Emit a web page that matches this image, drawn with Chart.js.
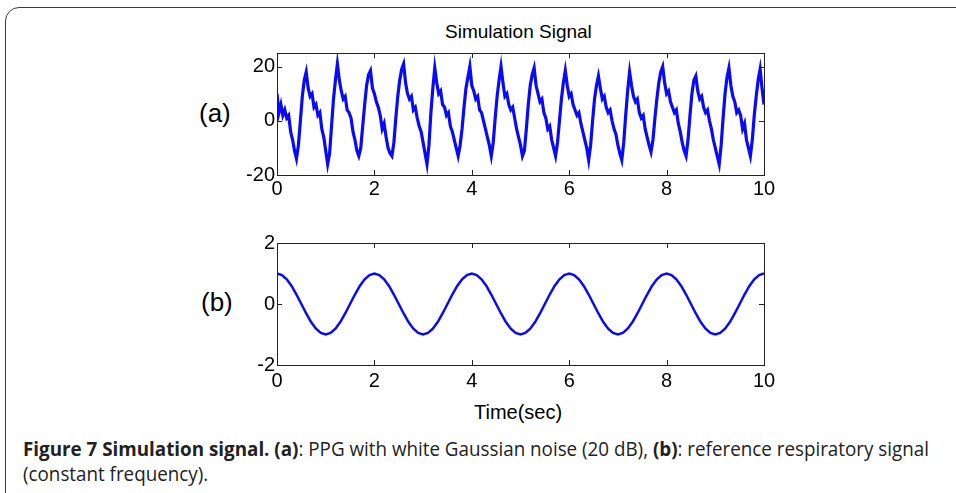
<!DOCTYPE html>
<html>
<head>
<meta charset="utf-8">
<script src="https://cdn.jsdelivr.net/npm/chart.js@4"></script>
<style>
  body { margin: 0; background: #fff; width: 956px; height: 493px; overflow: hidden; position: relative; font-family: 'Liberation Sans', Arial, sans-serif; }
  #frame { position: absolute; left: 5px; top: 7px; width: 1000px; height: 600px; border: 1.5px solid #3a3a3a; border-top-left-radius: 14px; }
  canvas { position: absolute; }
  .lbl { position: absolute; color: #000; white-space: nowrap; }
  #caption { position: absolute; left: 23px; top: 436px; font: 20px 'Open Sans', sans-serif; line-height: 25px; color: #222; white-space: nowrap; transform: scaleX(0.94); transform-origin: 0 0; }
  #caption b { font-weight: 700; }
</style>
</head>
<body>
<div id="frame"></div>
<div class="lbl" style="left:445px; top:21px; font-size:19px;">Simulation Signal</div>
<div class="lbl" style="left:199px; top:98px; font-size:26px;">(a)</div>
<div class="lbl" style="left:201px; top:287px; font-size:26px;">(b)</div>
<div class="lbl" style="left:474px; top:401px; font-size:20px;">Time(sec)</div>
<canvas id="chartA" width="600" height="185" style="left:200px; top:20px; width:600px; height:185px;"></canvas>
<canvas id="chartB" width="600" height="185" style="left:200px; top:215px; width:600px; height:185px;"></canvas>
<div id="caption"><b>Figure 7 Simulation signal. (a)</b>: PPG with white Gaussian noise (20 dB), <b>(b)</b>: reference respiratory signal<br>(constant frequency).</div>

<script>
// panel (a): noisy PPG, one sample every 0.04 s
const ppgStep = 0.04;
const ppgVals = [
    10, 3, 6, 2, 4, 1, 2, -4, -7, -11,
    -14, -9, 0, 9, 15, 18, 12, 9, 10, 5,
    6, 2, 3, -3, -6, -11, -16, -12, -2, 8,
    15, 21, 15, 11, 8, 9, 4, 3, 1, -4,
    -7, -11, -13, -10, -2, 6, 13, 17, 18.5, 12,
    10, 7, 5, 2, -3, -1, -6, -10, -12, -13,
    -8, 1, 9, 15, 19, 21, 14, 10, 8, 9,
    4, 5, 1, -2, -4, -8, -12, -16, -9, 3,
    12, 19.5, 14, 10, 11, 6, 5, 2, 3, -2,
    -4, -7, -10, -13, -9, -3, 5, 12, 16, 20,
    13, 11, 8, 9, 4, 3, 0, -3, -6, -9,
    -13, -8, 1, 9, 15, 20, 14, 9, 10, 6,
    4, 5, 1, -3, -6, -9, -13, -11, -3, 6,
    13, 17, 19.5, 13, 10, 7, 8, 3, 1, -3,
    -2, -7, -10, -13, -8, 0, 8, 14, 18.5, 13,
    9, 10, 6, 4, 2, 3, -1, -4, -7, -10,
    -14.5, -9, 0, 8, 13, 16.5, 12, 8, 9, 5,
    3, 4, 0, -3, -5, -9, -12, -14.5, -8, 2,
    11, 18, 13, 9, 7, 8, 3, 1, 2, -3,
    -6, -9, -11.5, -7, 1, 8, 14, 18, 20, 14,
    10, 11, 7, 5, 3, 4, -1, -4, -8, -11,
    -13, -7, 2, 10, 15, 16.5, 11, 8, 9, 5,
    3, 4, 0, -3, -7, -10, -13, -16, -9, 1,
    10, 16, 19.5, 13, 9, 7, 3, 4, 2, -3,
    -1, -7, -10, -13, -7, 2, 9, 15, 19, 12,
    6
];

// panel (b): reference respiratory signal, one sample every 0.1 s
const respStep = 0.1;
const respVals = [
    1, 0.95, 0.81, 0.59, 0.31, 0, -0.31, -0.59, -0.81, -0.95,
    -1, -0.95, -0.81, -0.59, -0.31, 0, 0.31, 0.59, 0.81, 0.95,
    1, 0.95, 0.81, 0.59, 0.31, 0, -0.31, -0.59, -0.81, -0.95,
    -1, -0.95, -0.81, -0.59, -0.31, 0, 0.31, 0.59, 0.81, 0.95,
    1, 0.95, 0.81, 0.59, 0.31, 0, -0.31, -0.59, -0.81, -0.95,
    -1, -0.95, -0.81, -0.59, -0.31, 0, 0.31, 0.59, 0.81, 0.95,
    1, 0.95, 0.81, 0.59, 0.31, 0, -0.31, -0.59, -0.81, -0.95,
    -1, -0.95, -0.81, -0.59, -0.31, 0, 0.31, 0.59, 0.81, 0.95,
    1, 0.95, 0.81, 0.59, 0.31, 0, -0.31, -0.59, -0.81, -0.95,
    -1, -0.95, -0.81, -0.59, -0.31, 0, 0.31, 0.59, 0.81, 0.95,
    1
];

const xTicks = [0, 2, 4, 6, 8, 10];
const yTicksA = [-20, 0, 20];
const yTicksB = [-2, 0, 2];

// matlab style box with inward ticks
const boxPlugin = {
    id: 'box',
    afterDatasetsDraw(chart) {
        const { ctx, chartArea: a, scales } = chart;
        ctx.save();
        ctx.strokeStyle = '#222';
        ctx.lineWidth = 1;
        ctx.beginPath();
        scales.x.ticks.forEach(t => {
            const px = Math.round(scales.x.getPixelForValue(t.value)) + 0.5;
            ctx.moveTo(px, a.bottom); ctx.lineTo(px, a.bottom - 5);
            ctx.moveTo(px, a.top); ctx.lineTo(px, a.top + 5);
        });
        scales.y.ticks.forEach(t => {
            const py = Math.round(scales.y.getPixelForValue(t.value)) + 0.5;
            ctx.moveTo(a.left, py); ctx.lineTo(a.left + 5, py);
            ctx.moveTo(a.right, py); ctx.lineTo(a.right - 5, py);
        });
        ctx.stroke();
        ctx.strokeRect(Math.round(a.left) + 0.5, Math.round(a.top) + 0.5, Math.round(a.width), Math.round(a.height));
        ctx.restore();
    }
};

function makeChart(id, vals, step, yMin, yMax, yTicks, lineW, pad) {
    const pts = vals.map((v, i) => ({ x: i * step, y: v }));
    return new Chart(document.getElementById(id), {
        type: 'line',
        data: {
            datasets: [{
                data: pts,
                borderColor: 'rgb(10,10,250)',
                borderWidth: lineW,
                pointRadius: 0,
                fill: false,
                tension: 0
            }]
        },
        options: {
            responsive: false,
            animation: false,
            devicePixelRatio: 1,
            layout: { padding: pad },
            plugins: { legend: { display: false }, tooltip: { enabled: false } },
            scales: {
                x: {
                    type: 'linear', min: 0, max: 10,
                    afterBuildTicks: s => { s.ticks = xTicks.map(v => ({ value: v })); },
                    afterFit: s => { s.height = pad.xh; },
                    grid: { display: false, drawTicks: false },
                    border: { display: false },
                    ticks: { color: '#000', padding: pad.xp, maxRotation: 0, font: { family: 'Liberation Sans', size: 20 } }
                },
                y: {
                    type: 'linear', min: yMin, max: yMax,
                    afterBuildTicks: s => { s.ticks = yTicks.map(v => ({ value: v })); },
                    afterFit: s => { s.width = 77; },
                    grid: { display: false, drawTicks: false },
                    border: { display: false },
                    ticks: { color: '#000', padding: 2, font: { family: 'Liberation Sans', size: 20 } }
                }
            }
        },
        plugins: [boxPlugin]
    });
}

makeChart('chartA', ppgVals, ppgStep, -20, 25, yTicksA, 3.2, { left: 0, top: 33, right: 36, bottom: 0, xh: 30, xp: 2 });
makeChart('chartB', respVals, respStep, -2, 2, yTicksB, 2.5, { left: 0, top: 28, right: 36, bottom: 0, xh: 35, xp: 4 });
</script>
</body>
</html>
